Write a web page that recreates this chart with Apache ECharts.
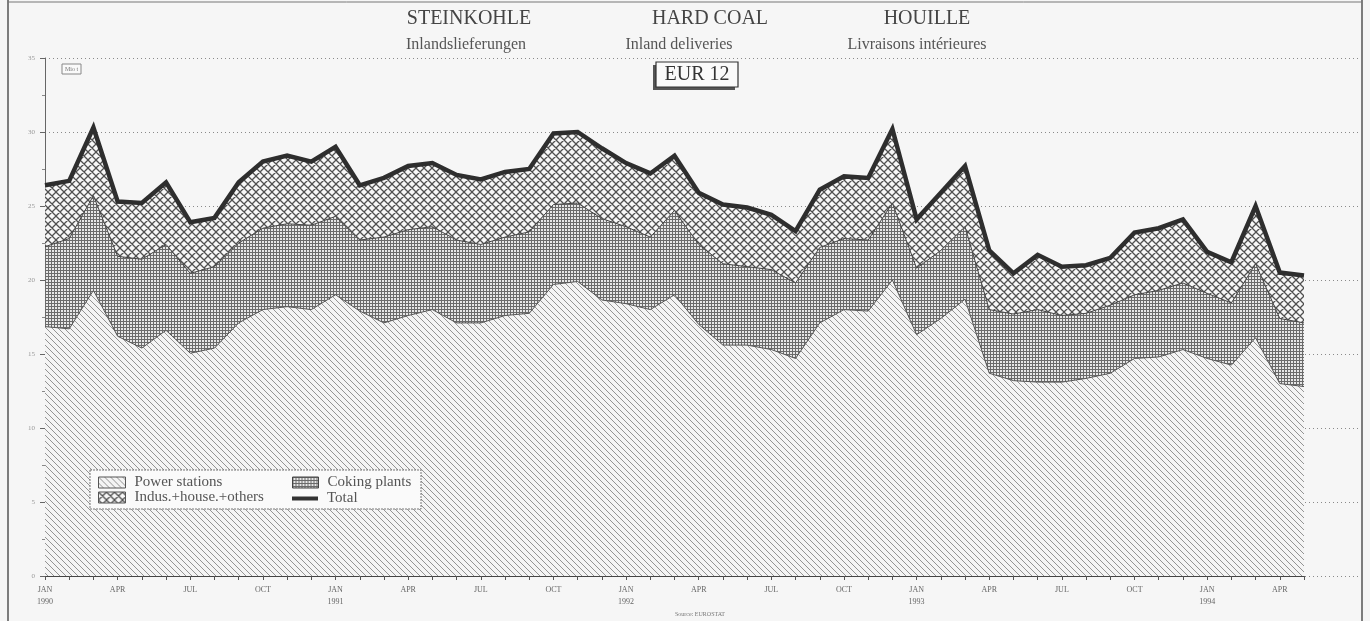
<!DOCTYPE html>
<html>
<head>
<meta charset="utf-8">
<script src="https://cdn.jsdelivr.net/npm/echarts@6/dist/echarts.min.js"></script>
<style>
html,body{margin:0;padding:0;background:#f6f6f6;}
#chart{width:1370px;height:621px;}
</style>
</head>
<body>
<div id="chart"></div>
<script>
// ---- data ----
const categories = [
 'JAN 1990','FEB 1990','MAR 1990','APR 1990','MAY 1990','JUN 1990','JUL 1990','AUG 1990','SEP 1990','OCT 1990','NOV 1990','DEC 1990',
 'JAN 1991','FEB 1991','MAR 1991','APR 1991','MAY 1991','JUN 1991','JUL 1991','AUG 1991','SEP 1991','OCT 1991','NOV 1991','DEC 1991',
 'JAN 1992','FEB 1992','MAR 1992','APR 1992','MAY 1992','JUN 1992','JUL 1992','AUG 1992','SEP 1992','OCT 1992','NOV 1992','DEC 1992',
 'JAN 1993','FEB 1993','MAR 1993','APR 1993','MAY 1993','JUN 1993','JUL 1993','AUG 1993','SEP 1993','OCT 1993','NOV 1993','DEC 1993',
 'JAN 1994','FEB 1994','MAR 1994','APR 1994','MAY 1994'
];
const powerStations = [16.85,16.7,19.3,16.2,15.4,16.6,15.05,15.4,17.1,18.0,18.2,18.0,19.0,
 17.9,17.1,17.6,18.0,17.1,17.1,17.6,17.75,19.7,19.9,18.65,18.4,18.0,19.0,
 17.0,15.6,15.6,15.3,14.7,17.1,18.0,17.9,20.0,16.3,17.4,18.7,13.7,
 13.2,13.1,13.1,13.35,13.7,14.7,14.8,15.3,14.7,14.25,16.1,13.0,12.8];
const cokingPlants = [5.4,6.1,6.4,5.4,6.0,5.8,5.4,5.5,5.4,5.5,5.6,5.7,5.3,
 4.8,5.8,5.8,5.6,5.6,5.3,5.3,5.5,5.4,5.3,5.5,5.2,4.9,5.7,
 5.4,5.5,5.3,5.4,5.1,5.1,4.8,4.8,5.2,4.5,4.6,4.9,4.3,
 4.5,4.9,4.5,4.4,4.6,4.3,4.5,4.5,4.4,4.2,5.0,4.4,4.3];
const industryHouseOthers = [4.2,3.9,4.6,3.7,3.9,4.2,3.5,3.3,4.1,4.5,4.6,4.3,4.7,
 3.7,4.0,4.3,4.3,4.4,4.4,4.4,4.2,4.8,4.8,4.7,4.3,4.3,3.7,
 3.5,4.0,4.0,3.7,3.5,3.9,4.2,4.2,5.0,3.3,3.9,4.1,4.0,
 2.7,3.7,3.3,3.3,3.2,4.2,4.2,4.3,2.8,2.8,3.9,3.1,3.2];
const totalDeliveries = [26.4,26.7,30.3,25.3,25.2,26.6,23.9,24.2,26.6,28.0,28.4,28.0,29.0,
 26.4,26.9,27.7,27.9,27.1,26.8,27.3,27.5,29.9,30.0,28.9,27.9,27.2,28.4,
 25.9,25.1,24.9,24.4,23.3,26.1,27.0,26.9,30.2,24.1,25.9,27.7,22.0,
 20.45,21.7,20.9,21.0,21.5,23.2,23.5,24.1,21.9,21.2,25.0,20.5,20.3];
const yTicks = [0,5,10,15,20,25,30,35];

// ---- patterns ----
function makePattern(w, h, bg, draw) {
  const c = document.createElement('canvas');
  c.width = w; c.height = h;
  const ctx = c.getContext('2d');
  ctx.fillStyle = bg; ctx.fillRect(0, 0, w, h);
  draw(ctx, w, h);
  return { image: c, repeat: 'repeat' };
}
const powerPat = makePattern(6, 6, '#f4f4f4', (ctx, w, h) => {
  ctx.strokeStyle = '#939393'; ctx.lineWidth = 1;
  ctx.beginPath();
  ctx.moveTo(-1, -1); ctx.lineTo(w + 1, h + 1);
  ctx.moveTo(-1, h - 1); ctx.lineTo(1, h + 1);
  ctx.moveTo(w - 1, -1); ctx.lineTo(w + 1, 1);
  ctx.stroke();
});
const cokingPat = makePattern(3, 3, '#e6e6e6', (ctx) => {
  ctx.fillStyle = '#6a6a6a';
  ctx.fillRect(0, 0, 3, 1);
  ctx.fillRect(0, 0, 1, 3);
});
const indusPat = makePattern(8, 8, '#f7f7f7', (ctx, w, h) => {
  ctx.strokeStyle = '#505050'; ctx.lineWidth = 1.3;
  ctx.beginPath();
  ctx.moveTo(-1, -1); ctx.lineTo(w + 1, h + 1);
  ctx.moveTo(w + 1, -1); ctx.lineTo(-1, h + 1);
  ctx.moveTo(-1, h - 1); ctx.lineTo(1, h + 1);
  ctx.moveTo(w - 1, -1); ctx.lineTo(w + 1, 1);
  ctx.moveTo(1, -1); ctx.lineTo(-1, 1);
  ctx.moveTo(w + 1, h - 1); ctx.lineTo(w - 1, h + 1);
  ctx.stroke();
});

const serif = '"Liberation Serif", "DejaVu Serif", serif';
const chart = echarts.init(document.getElementById('chart'), null, { renderer: 'canvas' });

const legendText = { fontSize: 15, lineHeight: 14, color: '#555', fontFamily: serif, padding: [0, 0, 0, 4] };

const option = {
  backgroundColor: '#f6f6f6',
  animation: false,
  textStyle: { fontFamily: serif },
  grid: [
    { left: 45, right: 66, top: 58, bottom: 45 },
    { left: 45, right: 10, top: 58, bottom: 45 }
  ],
  xAxis: [
    {
      type: 'category', gridIndex: 0, data: categories, boundaryGap: false,
      axisLine: { lineStyle: { color: '#444', width: 1 } },
      axisTick: { interval: 0, length: 4, lineStyle: { color: '#555' } },
      axisLabel: {
        interval: (i) => i % 3 === 0,
        formatter: (v) => { const p = v.split(' '); return p[0] === 'JAN' ? p[0] + '\n' + p[1] : p[0]; },
        fontSize: 8, color: '#666', fontFamily: serif, lineHeight: 12, margin: 8
      },
      splitLine: { show: false }
    },
    { type: 'value', gridIndex: 1, min: 0, max: 1, show: false }
  ],
  yAxis: [
    {
      type: 'value', gridIndex: 0, min: 0, max: 35, interval: 5,
      axisLine: { show: true, lineStyle: { color: '#666' } },
      axisTick: { show: true, length: 5, lineStyle: { color: '#666' } },
      minorTick: { show: true, splitNumber: 2, length: 3, lineStyle: { color: '#888' } },
      axisLabel: { fontSize: 7, color: '#999', margin: 10, formatter: (v) => yTicks.includes(v) ? String(v) : '' },
      splitLine: { show: false }
    },
    {
      type: 'value', gridIndex: 1, min: 0, max: 35, interval: 5,
      axisLine: { show: false }, axisTick: { show: false }, axisLabel: { show: false },
      splitLine: { show: true, lineStyle: { color: '#8a8a8a', type: [1, 3], width: 1 } }
    }
  ],
  legend: [
    {
      left: 98, top: 475, orient: 'vertical', itemWidth: 27, itemHeight: 11, itemGap: 0,
      padding: 0,
      textStyle: legendText, selectedMode: false, z: 20,
      data: [
        { name: 'Power stations', icon: 'rect', itemStyle: { color: powerPat, borderColor: '#555', borderWidth: 1 } },
        { name: 'Indus.+house.+others', icon: 'rect', itemStyle: { color: indusPat, borderColor: '#555', borderWidth: 1 } }
      ]
    },
    {
      left: 292, top: 475, orient: 'vertical', itemWidth: 26, itemHeight: 11,
      padding: 0,
      textStyle: legendText, selectedMode: false, z: 20,
      data: [
        { name: 'Coking plants', icon: 'rect', itemStyle: { color: cokingPat, borderColor: '#444', borderWidth: 1 } }
      ]
    },
    {
      left: 292, top: 491, orient: 'vertical', itemWidth: 26, itemHeight: 4,
      padding: 0,
      textStyle: legendText, selectedMode: false, z: 20,
      data: [
        { name: 'Total', icon: 'rect', itemStyle: { color: '#333' } }
      ]
    }
  ],
  series: [
    {
      name: 'Power stations', type: 'line', stack: 'coal', xAxisIndex: 0, yAxisIndex: 0,
      data: powerStations, symbol: 'none', z: 2,
      lineStyle: { width: 1, color: '#555' },
      itemStyle: { color: powerPat },
      areaStyle: { color: powerPat, opacity: 1 },
      emphasis: { disabled: true }
    },
    {
      name: 'Coking plants', type: 'line', stack: 'coal', xAxisIndex: 0, yAxisIndex: 0,
      data: cokingPlants, symbol: 'none', z: 2,
      lineStyle: { width: 1, color: '#444' },
      itemStyle: { color: cokingPat },
      areaStyle: { color: cokingPat, opacity: 1 },
      emphasis: { disabled: true }
    },
    {
      name: 'Indus.+house.+others', type: 'line', stack: 'coal', xAxisIndex: 0, yAxisIndex: 0,
      data: industryHouseOthers, symbol: 'none', z: 2,
      lineStyle: { width: 0 },
      itemStyle: { color: indusPat },
      areaStyle: { color: indusPat, opacity: 1 },
      emphasis: { disabled: true }
    },
    {
      name: 'Total', type: 'line', xAxisIndex: 0, yAxisIndex: 0,
      data: totalDeliveries, symbol: 'none', z: 5,
      lineStyle: { width: 4.5, color: '#2e2e2e', join: 'miter' },
      itemStyle: { color: '#333' },
      emphasis: { disabled: true }
    }
  ],
  graphic: [
    // page frame
    { type: 'line', shape: { x1: 8, y1: 0, x2: 8, y2: 621 }, style: { stroke: '#555', lineWidth: 1.5 }, z: 1 },
    { type: 'line', shape: { x1: 1362, y1: 0, x2: 1362, y2: 621 }, style: { stroke: '#555', lineWidth: 1.5 }, z: 1 },
    { type: 'line', shape: { x1: 8, y1: 2, x2: 1362, y2: 2 }, style: { stroke: '#777', lineWidth: 1 }, z: 1 },
    // titles
    { type: 'text', x: 469, y: 19, style: { text: 'STEINKOHLE', font: '20px ' + serif, fill: '#444', align: 'center', verticalAlign: 'middle' }, z: 10 },
    { type: 'text', x: 710, y: 19, style: { text: 'HARD COAL', font: '20px ' + serif, fill: '#444', align: 'center', verticalAlign: 'middle' }, z: 10 },
    { type: 'text', x: 927, y: 19, style: { text: 'HOUILLE', font: '20px ' + serif, fill: '#444', align: 'center', verticalAlign: 'middle' }, z: 10 },
    { type: 'text', x: 466, y: 45, style: { text: 'Inlandslieferungen', font: '16px ' + serif, fill: '#555', align: 'center', verticalAlign: 'middle' }, z: 10 },
    { type: 'text', x: 679, y: 45, style: { text: 'Inland deliveries', font: '16px ' + serif, fill: '#555', align: 'center', verticalAlign: 'middle' }, z: 10 },
    { type: 'text', x: 917, y: 45, style: { text: 'Livraisons intérieures', font: '16px ' + serif, fill: '#555', align: 'center', verticalAlign: 'middle' }, z: 10 },
    // EUR 12 box
    { type: 'rect', shape: { x: 653, y: 65, width: 82, height: 25 }, style: { fill: '#555', stroke: null }, z: 10 },
    { type: 'rect', shape: { x: 656, y: 62, width: 82, height: 25 }, style: { fill: '#fafafa', stroke: '#333', lineWidth: 1.2 }, z: 11 },
    { type: 'text', x: 697, y: 75, style: { text: 'EUR 12', font: '20px ' + serif, fill: '#333', align: 'center', verticalAlign: 'middle' }, z: 12 },
    // unit box
    { type: 'rect', shape: { x: 62, y: 64, width: 19, height: 10 }, style: { fill: '#fafafa', stroke: '#888', lineWidth: 1 }, z: 10 },
    { type: 'text', x: 71.5, y: 69, style: { text: 'Mio t', font: '6px ' + serif, fill: '#777', align: 'center', verticalAlign: 'middle' }, z: 11 },
    // legend frame
    { type: 'rect', shape: { x: 90, y: 470, width: 331, height: 39 }, style: { fill: '#fafafa', stroke: '#777', lineWidth: 1, lineDash: [2, 1] }, z: 10 },
    // source
    { type: 'text', x: 700, y: 614, style: { text: 'Source: EUROSTAT', font: '6px ' + serif, fill: '#777', align: 'center', verticalAlign: 'middle' }, z: 10 }
  ]
};
chart.setOption(option);
</script>
</body>
</html>
